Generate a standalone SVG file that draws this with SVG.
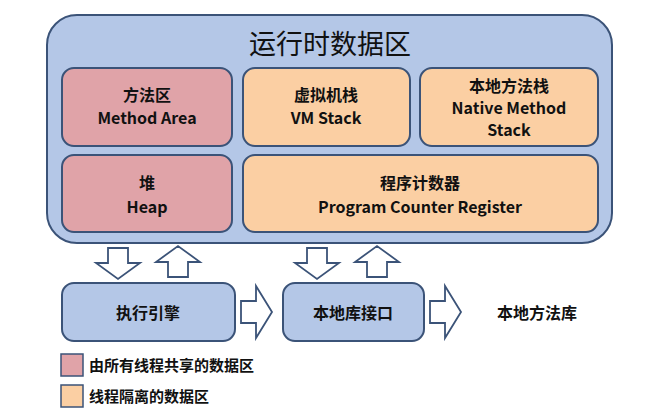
<svg xmlns="http://www.w3.org/2000/svg" width="657" height="420" viewBox="0 0 657 420">
<style>
.box{stroke:#3b5378;stroke-width:2}
.blue{fill:#b4c7e7}.red{fill:#e0a3a8}.org{fill:#fbcfa3}
.arr{fill:#fff;stroke:#3b5378;stroke-width:1.8;stroke-linejoin:miter}
text{font-family:"Noto Sans CJK SC","Noto Sans",sans-serif;font-weight:bold;fill:#111;text-anchor:middle}
.t{font-size:16px}
</style>
<rect width="657" height="420" fill="#fff"/>
<g id="runtime"><rect class="box blue" x="47" y="15" width="565" height="228" rx="30"/>
<text x="330" y="54" style="font-size:27px;font-weight:normal">运行时数据区</text></g>
<g id="method"><rect class="box red" x="62" y="68" width="170" height="78" rx="12"/>
<text class="t" x="147" y="101">方法区</text><text class="t" x="147" y="124">Method Area</text></g>
<g id="vmstack"><rect class="box org" x="243" y="68" width="167" height="78" rx="12"/>
<text class="t" x="326" y="101">虚拟机栈</text><text class="t" x="326" y="124">VM Stack</text></g>
<g id="native"><rect class="box org" x="420" y="68" width="178" height="78" rx="12"/>
<text class="t" x="509" y="92">本地方法栈</text><text class="t" x="509" y="114">Native Method</text><text class="t" x="509" y="136">Stack</text></g>
<g id="heap"><rect class="box red" x="62" y="155" width="170" height="77" rx="12"/>
<text class="t" x="147" y="189">堆</text><text class="t" x="147" y="213">Heap</text></g>
<g id="pc"><rect class="box org" x="243" y="155" width="355" height="77" rx="12"/>
<text class="t" x="420" y="189">程序计数器</text><text class="t" x="420" y="213">Program Counter Register</text></g>
<g id="engine"><rect class="box blue" x="62" y="283" width="173" height="58" rx="12"/>
<text class="t" x="148" y="319">执行引擎</text></g>
<g id="jni"><rect class="box blue" x="283" y="283" width="141" height="58" rx="12"/>
<text class="t" x="353" y="319">本地库接口</text></g>
<g id="lib"><text class="t" x="537" y="319">本地方法库</text></g>
<g id="connectors">
<path class="arr" d="M108,248 h20 v15 h12 l-22,16 l-22,-16 h12 z"/>
<path class="arr" d="M168,277 h20 v-15 h12 l-22,-16 l-22,16 h12 z"/>
<path class="arr" d="M307,248 h20 v15 h12 l-22,16 l-22,-16 h12 z"/>
<path class="arr" d="M367,277 h20 v-15 h12 l-22,-16 l-22,16 h12 z"/>
<path class="arr" d="M241,301 h15 v-15 l16,26 l-16,26 v-15 h-15 z"/>
<path class="arr" d="M430,301 h15 v-15 l16,26 l-16,26 v-15 h-15 z"/>
</g>
<g id="legend">
<rect class="red" x="61" y="354" width="22" height="22" stroke="#3b5378" stroke-width="1.5"/>
<text x="89" y="371" style="font-size:15px;text-anchor:start">由所有线程共享的数据区</text>
<rect class="org" x="61" y="385" width="22" height="22" stroke="#3b5378" stroke-width="1.5"/>
<text x="89" y="402" style="font-size:15px;text-anchor:start">线程隔离的数据区</text>
</g>
</svg>
